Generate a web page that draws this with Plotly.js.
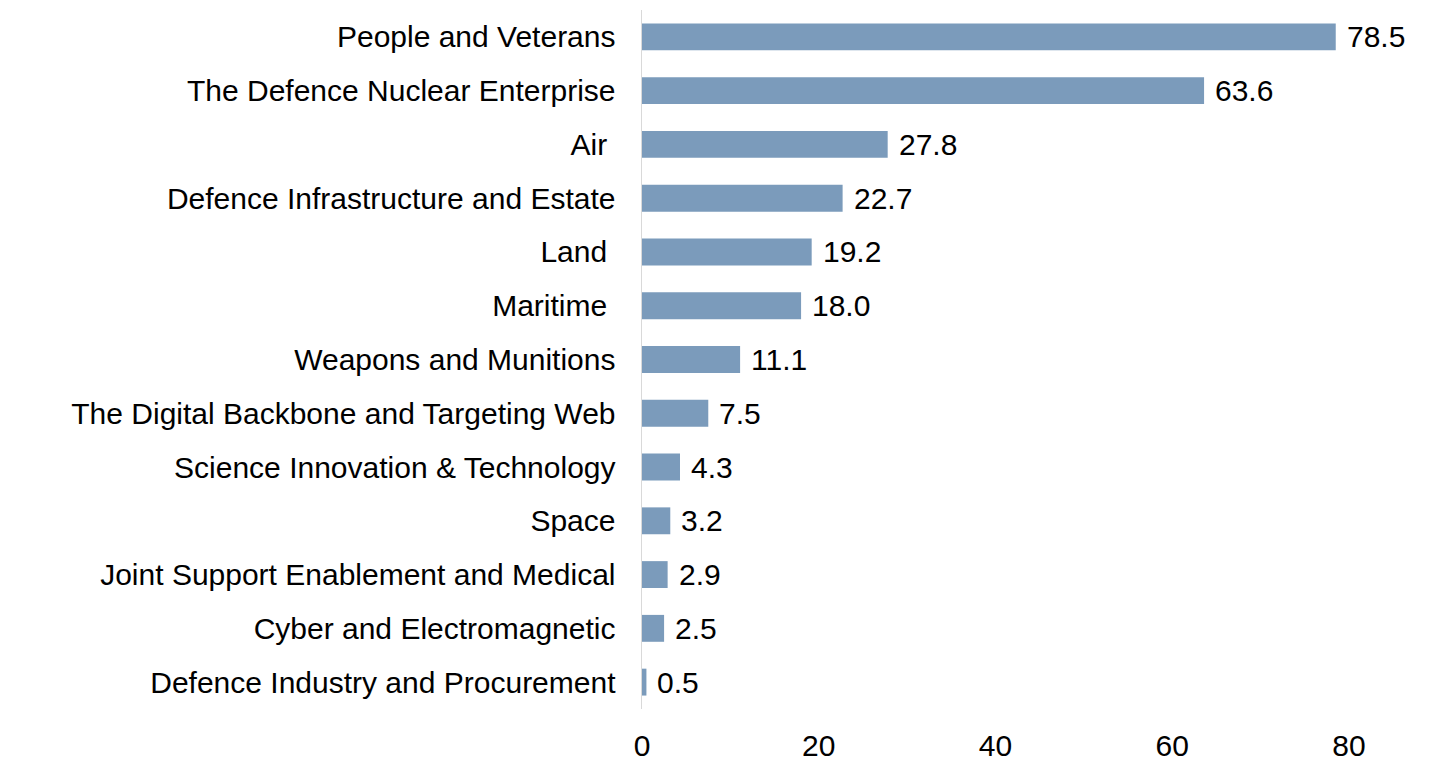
<!DOCTYPE html>
<html>
<head>
<meta charset="utf-8">
<script src="https://cdn.plot.ly/plotly-3.0.1.min.js"></script>
<style>html,body{margin:0;padding:0;background:#fff;}#chart{width:1456px;height:765px;}</style>
</head>
<body>
<div id="chart"></div>
<script>
const categories = [
  "People and Veterans",
  "The Defence Nuclear Enterprise",
  "Air\u00a0",
  "Defence Infrastructure and Estate",
  "Land\u00a0",
  "Maritime\u00a0",
  "Weapons and Munitions",
  "The Digital Backbone and Targeting Web",
  "Science Innovation & Technology",
  "Space",
  "Joint Support Enablement and Medical",
  "Cyber and Electromagnetic",
  "Defence Industry and Procurement"
];
const values = [78.5, 63.6, 27.8, 22.7, 19.2, 18.0, 11.1, 7.5, 4.3, 3.2, 2.9, 2.5, 0.5];
const xTicks = [0, 20, 40, 60, 80];

const fontFamily = "Liberation Sans, Arial, sans-serif";
const fs = 30;

const trace = {
  type: "bar",
  orientation: "h",
  x: values,
  y: categories,
  marker: {color: "#7b9bbb"},
  hoverinfo: "none"
};

const annotations = values.map((v, i) => ({
  x: v, y: categories[i], xref: "x", yref: "y",
  text: v.toFixed(1), showarrow: false, xanchor: "left", xshift: 9,
  font: {family: fontFamily, size: fs, color: "#000"}
}));

const layout = {
  width: 1456, height: 765,
  margin: {l: 642, r: 107, t: 10, b: 56},
  paper_bgcolor: "#fff", plot_bgcolor: "#fff",
  font: {family: fontFamily, size: fs, color: "#000"},
  bargap: 0.5,
  showlegend: false,
  xaxis: {
    range: [0, 80], tickvals: xTicks, ticktext: xTicks.map(String),
    showgrid: false, zeroline: false, showline: false, ticks: "",
    ticklabelstandoff: 16,
    tickfont: {family: fontFamily, size: fs, color: "#000"}
  },
  yaxis: {
    type: "category", autorange: "reversed",
    showgrid: false, zeroline: false, showline: true,
    linecolor: "#d9d9d9", linewidth: 1.5, ticks: "",
    ticklabelstandoff: 19,
    tickfont: {family: fontFamily, size: fs, color: "#000"}
  },
  annotations: annotations
};

Plotly.newPlot("chart", [trace], layout, {displayModeBar: false, staticPlot: true});
</script>
</body>
</html>
